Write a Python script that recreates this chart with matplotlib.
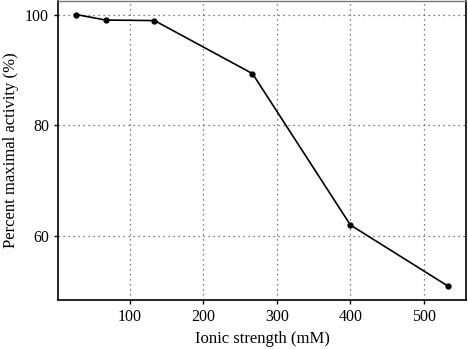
import matplotlib
matplotlib.use("Agg")
import matplotlib.pyplot as plt

ionic_strength = [26.7, 66.7, 133.3, 266.7, 400.0, 533.3]
activity = [100.0, 99.0, 98.9, 89.3, 61.9, 50.8]
x_ticks = [100, 200, 300, 400, 500]
y_ticks = [60, 80, 100]

plt.rcParams['font.family'] = ['Liberation Serif', 'DejaVu Serif']
fig = plt.figure(figsize=(4.68, 3.49), dpi=100)
ax = fig.add_axes([0.124, 0.140, 0.872, 0.858])
ax.plot(ionic_strength, activity, color='black', lw=1.2, marker='o', ms=3.5, zorder=3)
ax.set_xlim(2, 557.5)
ax.set_ylim(48.3, 102.5)
ax.set_xticks(x_ticks)
ax.set_yticks(y_ticks)
ax.grid(True, linestyle=(0, (1, 3)), color='#555555', lw=0.9)
ax.tick_params(direction='out', length=3, width=1, labelsize=11.5, colors='black')
for s in ax.spines.values():
    s.set_linewidth(1.2)
ax.spines['top'].set_color('#777777')
ax.spines['top'].set_linewidth(1.0)
ax.set_xlabel('Ionic strength (mM)', fontsize=12)
ax.set_ylabel('Percent maximal activity (%)', fontsize=12)
fig.savefig('out.png', dpi=100)
